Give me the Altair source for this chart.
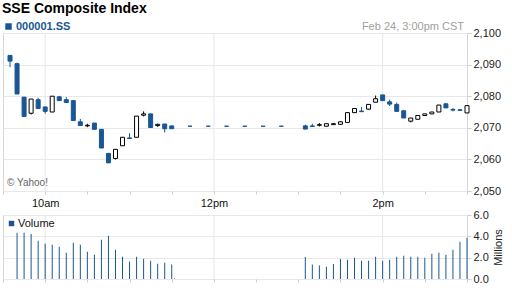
import altair as alt
import pandas as pd

DAY = "2014-02-24"
BLUE = "#1a5694"
FONT = "Liberation Sans"

candle_times = ["09:35", "09:40", "09:45", "09:50", "09:55", "10:00", "10:05", "10:10",
                "10:15", "10:20", "10:25", "10:30", "10:35", "10:40", "10:45", "10:50",
                "10:55", "11:00", "11:05", "11:10", "11:15", "11:20", "11:25", "11:30",
                "13:05", "13:10", "13:15", "13:20", "13:25", "13:30", "13:35", "13:40",
                "13:45", "13:50", "13:55", "14:00", "14:05", "14:10", "14:15", "14:20",
                "14:25", "14:30", "14:35", "14:40", "14:45", "14:50", "14:55", "15:00"]
opens = [2092.9, 2090.3, 2079.7, 2074.6, 2078.9, 2076.6, 2075.0, 2079.8,
         2078.9, 2078.6, 2071.9, 2070.6, 2071.5, 2069.5, 2061.9, 2060.3,
         2064.3, 2066.8, 2067.0, 2074.0, 2074.4, 2070.7, 2071.2, 2070.6,
         2070.6, 2070.6, 2070.8, 2070.5, 2071.0, 2071.1, 2071.7, 2074.8,
         2075.3, 2075.9, 2078.1, 2080.4, 2078.2, 2077.4, 2075.4, 2072.1,
         2072.7, 2073.9, 2074.4, 2075.0, 2077.6, 2075.8, 2075.7, 2074.7]
highs = [2092.9, 2090.6, 2079.7, 2079.1, 2079.5, 2076.6, 2080.0, 2080.1,
         2079.7, 2078.6, 2072.8, 2071.3, 2071.5, 2069.5, 2061.9, 2063.2,
         2067.0, 2068.3, 2073.7, 2075.2, 2074.4, 2071.3, 2071.2, 2070.6,
         2071.0, 2071.3, 2071.5, 2071.3, 2071.5, 2072.0, 2074.8, 2076.1,
         2076.6, 2077.4, 2080.2, 2080.4, 2078.9, 2078.0, 2075.4, 2073.1,
         2073.9, 2074.4, 2075.0, 2077.2, 2077.6, 2076.3, 2075.9, 2077.0]
lows = [2089.2, 2080.7, 2073.6, 2074.2, 2076.1, 2074.5, 2075.0, 2078.6,
        2078.0, 2072.3, 2070.7, 2070.2, 2069.5, 2063.6, 2058.9, 2060.0,
        2064.3, 2066.6, 2067.0, 2073.6, 2070.1, 2070.3, 2068.5, 2069.7,
        2069.6, 2070.4, 2070.4, 2070.5, 2071.0, 2071.1, 2071.7, 2074.8,
        2075.1, 2075.7, 2078.1, 2078.6, 2076.9, 2075.2, 2073.1, 2071.7,
        2072.7, 2073.9, 2074.4, 2075.0, 2076.3, 2075.2, 2075.3, 2074.7]
closes = [2091.1, 2080.7, 2073.6, 2079.1, 2076.1, 2075.2, 2080.0, 2078.6,
          2078.0, 2072.3, 2070.7, 2070.8, 2069.5, 2063.6, 2058.9, 2063.2,
          2067.0, 2066.6, 2073.7, 2074.4, 2070.1, 2071.1, 2069.7, 2069.7,
          2069.6, 2070.4, 2071.0, 2071.3, 2071.3, 2071.9, 2074.8, 2076.1,
          2075.1, 2077.4, 2079.2, 2078.6, 2077.5, 2075.2, 2073.1, 2073.1,
          2073.9, 2074.4, 2075.0, 2077.2, 2076.3, 2075.6, 2075.5, 2077.0]

lunch_times = ["11:43", "11:56", "12:09", "12:22", "12:35", "12:48"]
lunch_prices = [2070.5, 2070.5, 2070.5, 2070.5, 2070.5, 2070.5]

vol_times = ["09:40", "09:45", "09:50", "09:55", "10:00", "10:05", "10:10", "10:15",
             "10:20", "10:25", "10:30", "10:35", "10:40", "10:45", "10:50", "10:55",
             "11:00", "11:05", "11:10", "11:15", "11:20", "11:25", "11:30", "11:32",
             "13:05", "13:10", "13:15", "13:20", "13:25", "13:30", "13:35", "13:40",
             "13:45", "13:50", "13:55", "14:00", "14:05", "14:10", "14:15", "14:20",
             "14:25", "14:30", "14:35", "14:40", "14:45", "14:50", "14:55", "15:00"]
volumes = [4.33, 4.33, 4.23, 3.58, 3.30, 3.21, 3.02, 2.47,
           3.40, 3.21, 2.56, 2.28, 3.67, 4.05, 2.74, 2.09,
           1.63, 2.09, 1.91, 1.72, 1.44, 1.53, 1.35, 0.05,
           2.06, 1.35, 1.26, 1.16, 1.41, 1.88, 1.81, 2.00,
           1.72, 1.72, 2.09, 1.72, 1.81, 2.09, 2.19, 2.09,
           2.09, 2.00, 2.37, 2.47, 2.28, 2.74, 3.49, 3.86]

grid_times = ["10:00", "12:00", "14:00"]
tick_times = ["09:30", "10:00", "10:30", "11:00", "11:30", "12:00", "12:30",
              "13:00", "13:30", "14:00", "14:30", "15:00"]
price_ticks = [2050, 2060, 2070, 2080, 2090, 2100]
vol_ticks = [0, 2, 4, 6]


def ts(hm):
    return f"{DAY}T{hm}:00"


def dt(hm):
    h, m = hm.split(":")
    return alt.DateTime(year=2014, month=2, date=24, hours=int(h), minutes=int(m))


candles = pd.DataFrame({
    "t": [ts(x) for x in candle_times],
    "open": opens, "high": highs, "low": lows, "close": closes,
})
candles["dir"] = ["up" if c >= o else "down" for o, c in zip(opens, closes)]
lunch = pd.DataFrame({"t": [ts(x) for x in lunch_times], "p": lunch_prices,
                      "sym": ["000001.SS"] * len(lunch_times)})
vol = pd.DataFrame({"t": [ts(x) for x in vol_times], "v": volumes,
                    "lab": ["Volume"] * len(vol_times)})
grid = pd.DataFrame({"t": [ts(x) for x in grid_times]})

xscale = alt.Scale(domain=[dt("09:30"), dt("15:00")], nice=False, padding=0)
tick_vals = [dt(x) for x in tick_times]
LABEL_EXPR = ("(minutes(datum.value)==0 && hours(datum.value)%2==0) ? "
              "lower(timeFormat(datum.value,'%-I%p')) : ''")

x_main_axis = alt.Axis(values=tick_vals, labelExpr=LABEL_EXPR, grid=False, domain=False,
                       tickSize=3, tickColor="#cfcfcf", labelFontSize=11, labelColor="#111",
                       labelPadding=3, labelOverlap=False, labelFlush=False, title=None)
x_vol_axis = alt.Axis(values=tick_vals, labels=False, grid=False, domain=False,
                      tickSize=3, tickColor="#cfcfcf", title=None)


def X(axis):
    return alt.X("t:T", scale=xscale, axis=axis, title=None)


yscale = alt.Scale(domain=[2050, 2100], nice=False, zero=False)
y_axis = alt.Axis(orient="right", values=price_ticks, format=",.0f", grid=True,
                  gridColor="#e8e8e8", domain=False, tickSize=4, tickColor="#cfcfcf",
                  labelFontSize=11, labelColor="#222", labelPadding=2, title=None)


def Y(field):
    return alt.Y(field, scale=yscale, axis=y_axis, title=None)


base = alt.Chart(candles)
grid_main = alt.Chart(grid).mark_rule(color="#e6e6e6", strokeWidth=1).encode(x=X(x_main_axis))
wick_down = base.transform_filter("datum.dir == 'down'").mark_rule(
    color=BLUE, strokeWidth=1).encode(x=X(x_main_axis), y=Y("low:Q"), y2="high:Q")
wick_up = base.transform_filter("datum.dir == 'up'").mark_rule(
    color="black", strokeWidth=1).encode(x=X(x_main_axis), y=Y("low:Q"), y2="high:Q")
body_down = base.transform_filter("datum.dir == 'down'").mark_bar(
    size=4, fill=BLUE, stroke=BLUE, strokeWidth=1).encode(
    x=X(x_main_axis), y=Y("open:Q"), y2="close:Q")
body_up = base.transform_filter("datum.dir == 'up'").mark_bar(
    size=4, fill="white", stroke="black", strokeWidth=1).encode(
    x=X(x_main_axis), y=Y("open:Q"), y2="close:Q")
lunch_marks = alt.Chart(lunch).mark_bar(size=4, stroke=BLUE, strokeWidth=1).encode(
    x=X(x_main_axis), y=Y("p:Q"), y2="p:Q",
    color=alt.Color("sym:N", scale=alt.Scale(domain=["000001.SS"], range=[BLUE]),
                    legend=alt.Legend(title=None, orient="none", legendX=0, legendY=-12,
                                      symbolType="square", symbolSize=42,
                                      symbolStrokeWidth=0, labelFontSize=11,
                                      labelFontWeight="bold", labelColor=BLUE,
                                      labelOffset=2, padding=0)))
copyright_txt = alt.Chart(grid.head(1)).mark_text(
    text="© Yahoo!", align="left", baseline="middle", fontSize=10, color="#666").encode(
    x=alt.value(4), y=alt.value(150))

main = alt.layer(grid_main, wick_down, wick_up, body_down, body_up, lunch_marks,
                 copyright_txt).properties(
    width=464, height=158,
    title=alt.TitleParams("Feb 24, 3:00pm CST", anchor="end", frame="group",
                          fontSize=11, fontWeight="normal", color="#a0a0a0",
                          offset=-11, dx=-3))

vgrid = alt.Chart(grid).mark_rule(color="#e6e6e6", strokeWidth=1).encode(x=X(x_vol_axis))
vbars = alt.Chart(vol).mark_bar(size=1).encode(
    x=X(x_vol_axis),
    y=alt.Y("v:Q", scale=alt.Scale(domain=[0, 6], nice=False),
            axis=alt.Axis(orient="right", values=vol_ticks, format=".1f", grid=True,
                          gridColor="#e8e8e8", domain=False, tickSize=4,
                          tickColor="#cfcfcf", labelFontSize=11, labelColor="#222",
                          labelPadding=2, title="Millions", titleAngle=270,
                          titleFontSize=11, titleFontWeight="normal", titleColor="#222",
                          titlePadding=15)),
    color=alt.Color("lab:N", scale=alt.Scale(domain=["Volume"], range=[BLUE]),
                    legend=alt.Legend(title=None, orient="top-left", offset=3,
                                      symbolType="square", symbolSize=30,
                                      symbolStrokeWidth=0, labelFontSize=11,
                                      labelColor="#111", labelOffset=1, padding=0)))
volume = alt.layer(vgrid, vbars).properties(width=464, height=64)

chart = alt.vconcat(main, volume, spacing=24, bounds="flush",
                    padding={"left": 2, "top": 1, "right": 0, "bottom": 0},
                    title=alt.TitleParams("SSE Composite Index", anchor="start",
                                          fontSize=14, fontWeight="bold", color="black",
                                          offset=5)
                    ).resolve_scale(color="independent", y="independent"
                    ).resolve_legend(color="independent"
                    ).configure(font=FONT).configure_view(stroke="#d6d6d6")

chart.save("out.html", embed_options={"renderer": "svg", "actions": False})
